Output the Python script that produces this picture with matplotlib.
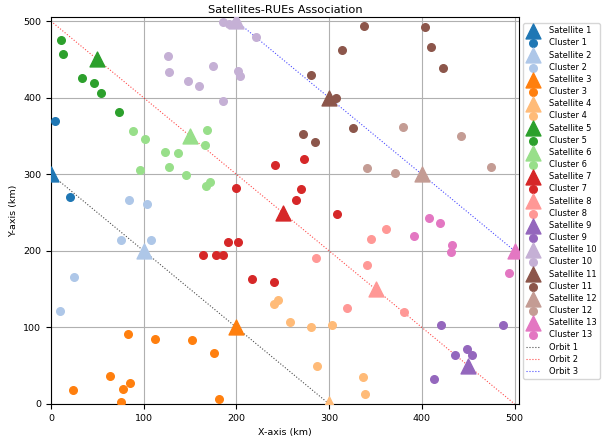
"""Satellites-RUEs association: satellite positions on three orbits and their clusters."""

import matplotlib.pyplot as plt

# satellite positions (km)
sat_x = [0, 100, 200, 300, 50, 150, 250, 350, 450, 200, 300, 400, 500]
sat_y = [300, 200, 100, 0, 450, 350, 250, 150, 50, 500, 400, 300, 200]

# RUEs associated to each satellite
clusters = [
    [(4, 370), (21, 271)],
    [(84, 267), (103, 261), (75, 214), (108, 214), (25, 166), (10, 121)],
    [(83, 92), (112, 85), (152, 84), (176, 67), (64, 36), (85, 28),
     (78, 20), (24, 18), (75, 3), (181, 6)],
    [(240, 131), (245, 136), (258, 107), (280, 101), (303, 103), (287, 50),
     (336, 35), (339, 13)],
    [(11, 476), (13, 457), (33, 426), (46, 419), (54, 406), (73, 382)],
    [(88, 356), (101, 346), (123, 329), (137, 328), (127, 309), (96, 305),
     (146, 299), (168, 358), (166, 338), (171, 290), (167, 285)],
    [(242, 312), (199, 282), (273, 320), (270, 281), (264, 267), (164, 194),
     (178, 195), (186, 194), (191, 212), (202, 212), (217, 163), (241, 160),
     (308, 248)],
    [(286, 191), (345, 215), (361, 228), (341, 182), (319, 126), (381, 120)],
    [(421, 103), (488, 103), (449, 72), (436, 64), (454, 64), (413, 33)],
    [(185, 499), (192, 497), (197, 497), (221, 479), (126, 455), (127, 434),
     (175, 442), (148, 422), (160, 416), (202, 435), (204, 428), (185, 396)],
    [(338, 494), (403, 492), (410, 466), (423, 439), (314, 462), (280, 430),
     (307, 400), (326, 360), (272, 353), (285, 342)],
    [(380, 362), (442, 350), (341, 308), (371, 302), (474, 310)],
    [(408, 243), (419, 237), (391, 219), (433, 208), (431, 199), (494, 171)],
]

# orbit end points
orbit_x = [(0, 300), (0, 500), (200, 500)]
orbit_y = [(300, 0), (500, 0), (500, 200)]
orbit_colors = ["black", "red", "blue"]

plt.rcParams["font.size"] = 6.8

fig = plt.figure(figsize=(6.03, 4.36), dpi=100)
ax = fig.add_axes([0.0846, 0.0734, 0.7765, 0.8876])
cmap = plt.get_cmap("tab20")

for i, pts in enumerate(clusters):
    color = cmap(i)
    ax.scatter(sat_x[i], sat_y[i], marker="^", s=115, color=color,
               label=f"Satellite {i + 1}", zorder=3)
    ax.scatter([p[0] for p in pts], [p[1] for p in pts], marker="o", s=30,
               color=color, label=f"Cluster {i + 1}", zorder=3)

for k, (xs, ys) in enumerate(zip(orbit_x, orbit_y)):
    ax.plot(xs, ys, linestyle=":", linewidth=0.8, color=orbit_colors[k],
            alpha=0.7, label=f"Orbit {k + 1}", zorder=2)

ax.set_xlim(0, 505)
ax.set_ylim(0, 505.5)
ax.set_xlabel("X-axis (km)")
ax.set_ylabel("Y-axis (km)")
ax.set_title("Satellites-RUEs Association", fontsize=8.2, pad=3)
ax.grid(True)
ax.legend(loc="upper left", bbox_to_anchor=(1.003, 0.99), fontsize=6.0,
          borderaxespad=0.3, handlelength=1.6, handletextpad=1.2,
          labelspacing=0.38, borderpad=0.35)

fig.savefig("out.png", dpi=100)
